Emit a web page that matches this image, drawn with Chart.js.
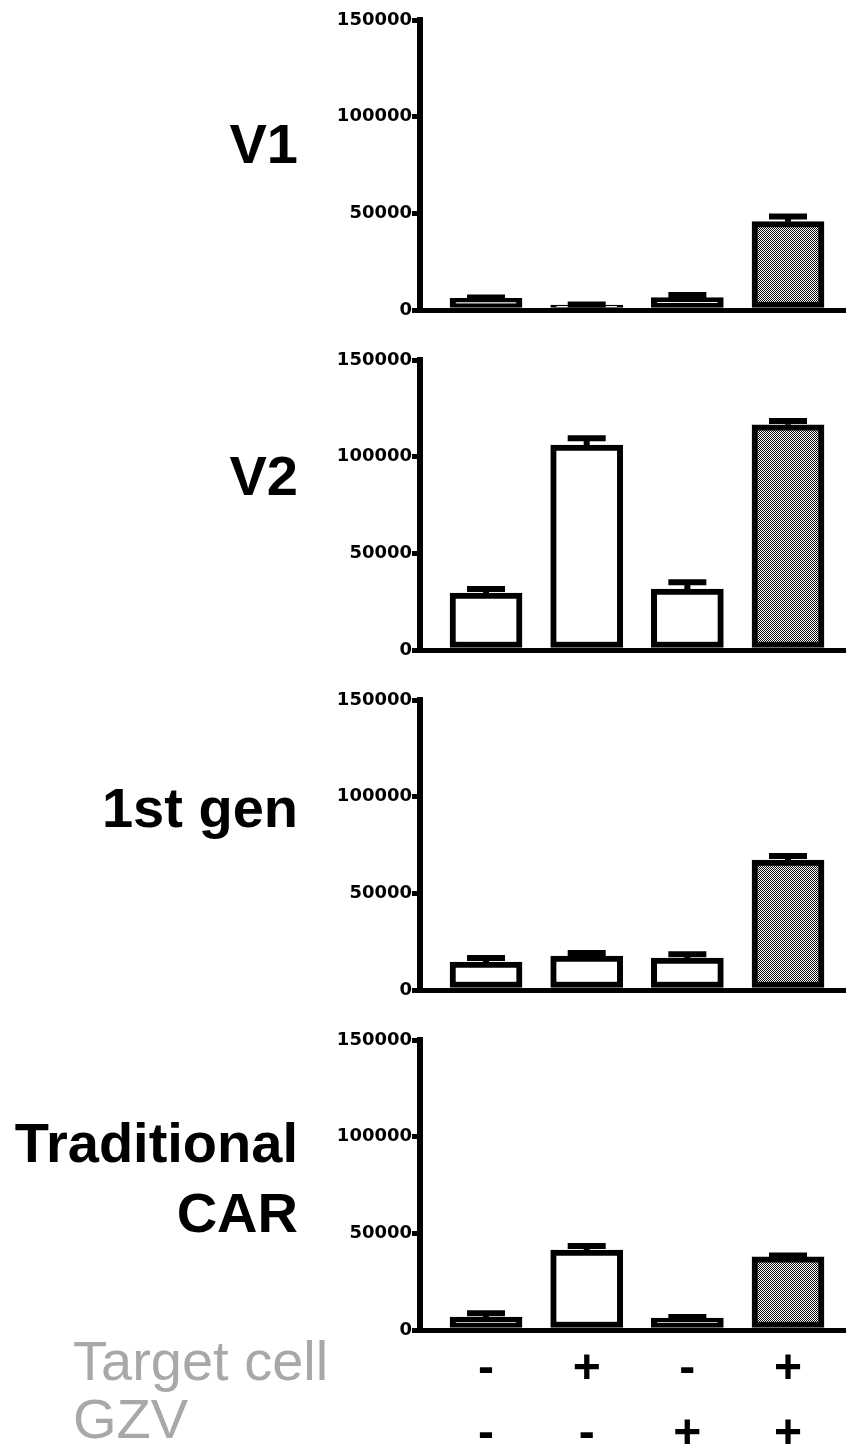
<!DOCTYPE html>
<html>
<head>
<meta charset="utf-8">
<script src="https://cdn.jsdelivr.net/npm/chart.js@4.4.1/dist/chart.umd.min.js"></script>
<style>
  body { margin: 0; background: #fff; }
  #wrap { position: relative; width: 846px; height: 1448px; overflow: hidden; }
  canvas { position: absolute; left: 300px; }
  .row { position: absolute; left: 0; width: 298px; text-align: right;
         font: bold 56px "Liberation Sans", Arial, sans-serif; line-height: 56px; color: #000; }
  .cond { position: absolute; left: 73px; font: 56px "Liberation Sans", Arial, sans-serif;
          line-height: 56px; color: #a8a8a8; }
</style>
</head>
<body>
<div id="wrap">
  <div class="row" style="top:116px">V1</div>
  <div class="row" style="top:448px">V2</div>
  <div class="row" style="top:780px">1st gen</div>
  <div class="row" style="top:1115px">Traditional</div>
  <div class="row" style="top:1185px">CAR</div>
  <div class="cond" style="top:1333px">Target cell</div>
  <div class="cond" style="top:1391px">GZV</div>

  <canvas id="c0" width="546" height="340" style="top:0px"></canvas>
  <canvas id="c1" width="546" height="340" style="top:340px"></canvas>
  <canvas id="c2" width="546" height="340" style="top:680px"></canvas>
  <canvas id="c3" width="546" height="428" style="top:1020px"></canvas>
</div>
<script>
// conditions under each bar
const targetCell = ["-", "+", "-", "+"];
const gzv = ["-", "-", "+", "+"];

// y axis
const yTicks = [0, 50000, 100000, 150000];

// values (mean, upper error)
const v1Mean = [6000, 2500, 6400, 45700];
const v1Err = [500, 300, 1400, 2600];
const v2Mean = [29500, 106000, 31500, 116500];
const v2Err = [2000, 3500, 3500, 2000];
const gen1Mean = [14500, 17600, 16500, 67200];
const gen1Err = [2000, 1500, 2000, 2100];
const tradMean = [6700, 41400, 6200, 37800];
const tradErr = [2000, 2000, 500, 700];

const panels = [
  { id: "c0", mean: v1Mean, err: v1Err },
  { id: "c1", mean: v2Mean, err: v2Err },
  { id: "c2", mean: gen1Mean, err: gen1Err },
  { id: "c3", mean: tradMean, err: tradErr, last: true },
];

// checkered fill for the GZV + target bar
function checker() {
  const c = document.createElement("canvas");
  c.width = 2; c.height = 2;
  const g = c.getContext("2d");
  g.fillStyle = "#fff"; g.fillRect(0, 0, 2, 2);
  g.fillStyle = "#111"; g.fillRect(0, 0, 1, 1); g.fillRect(1, 1, 1, 1);
  return g.createPattern(c, "repeat");
}
const hatch = checker();

const errorBars = {
  id: "errorBars",
  afterDatasetsDraw(chart, args, opts) {
    const ctx = chart.ctx;
    const y = chart.scales.y;
    const ds = chart.data.datasets[0].data;
    ctx.save();
    ctx.strokeStyle = "#000";
    ctx.lineWidth = 6;
    chart.getDatasetMeta(0).data.forEach((bar, i) => {
      const top = y.getPixelForValue(ds[i].y + opts.err[i]);
      ctx.beginPath();
      ctx.moveTo(bar.x, bar.y);
      ctx.lineTo(bar.x, top);
      ctx.moveTo(bar.x - 19, top);
      ctx.lineTo(bar.x + 19, top);
      ctx.stroke();
    });
    ctx.restore();
  },
};

panels.forEach((p) => {
  new Chart(document.getElementById(p.id).getContext("2d"), {
    type: "bar",
    data: {
      datasets: [
        {
          data: p.mean.map((v, i) => ({ x: i + 1, y: v })),
          backgroundColor: ["#fff", "#fff", "#fff", hatch],
          borderColor: "#000",
          borderWidth: 6,
          borderSkipped: false,
          barThickness: 72,
        },
      ],
    },
    options: {
      responsive: false,
      animation: false,
      events: [],
      layout: { padding: { top: 20, right: 0, bottom: p.last ? 0 : 30, left: 0 } },
      plugins: {
        legend: { display: false },
        tooltip: { enabled: false },
        errorBars: { err: p.err },
      },
      scales: {
        x: {
          type: "linear",
          offset: false,
          min: 0.344,
          max: 4.576,
          grid: { display: false, drawTicks: false, offset: false },
          border: { display: true, color: "#000", width: 5 },
          afterBuildTicks: (s) => { s.ticks = targetCell.map((_, i) => ({ value: i + 1 })); },
          afterFit: (s) => { s.height = p.last ? 118 : 0; },
          ticks: {
            display: !!p.last,
            autoSkip: false,
            maxRotation: 0,
            padding: 7,
            color: "#000",
            font: { family: "'Liberation Sans', Arial", size: 48, weight: "bold", lineHeight: 1.354 },
            callback: (v) => [targetCell[v - 1], gzv[v - 1]],
          },
        },
        y: {
          min: 0,
          max: 150000,
          afterBuildTicks: (s) => { s.ticks = yTicks.map((v) => ({ value: v })); },
          afterFit: (s) => { s.width = 120; },
          grid: { drawOnChartArea: false, drawTicks: true, tickLength: 8, lineWidth: 5, color: "#000" },
          border: { display: true, color: "#000", width: 6 },
          ticks: {
            padding: 0,
            color: "#000",
            font: { family: "'DejaVu Sans'", size: 18, weight: "bold" },
            callback: (v) => String(v),
          },
        },
      },
    },
    plugins: [errorBars],
  });
});
</script>
</body>
</html>
